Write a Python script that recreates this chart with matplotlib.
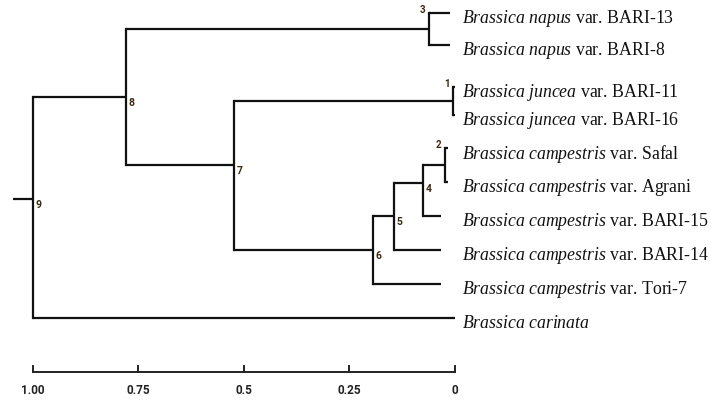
import matplotlib.pyplot as plt

plt.rcParams['mathtext.fontset'] = 'custom'
plt.rcParams['mathtext.it'] = 'Liberation Serif:italic'
plt.rcParams['mathtext.rm'] = 'Liberation Serif'

# leaf names (italic part, plain part), top to bottom
species = ["Brassica napus", "Brassica napus", "Brassica juncea", "Brassica juncea",
           "Brassica campestris", "Brassica campestris", "Brassica campestris",
           "Brassica campestris", "Brassica campestris", "Brassica carinata"]
varieties = ["var. BARI-13", "var. BARI-8", "var. BARI-11", "var. BARI-16",
             "var. Safal", "var. Agrani", "var. BARI-15", "var. BARI-14",
             "var. Tori-7", ""]
# row of each leaf
leaf_row = [0, 0.95, 2.18, 3.0, 3.98, 4.99, 5.99, 6.99, 7.99, 9.0]
# where each leaf branch stops (distance)
leaf_tip = [0.012, 0.012, 0.0, 0.0, 0.017, 0.017, 0.033, 0.033, 0.033, 0.0]

# merges: (node label, child a, child b, distance); children are leaf index or "n<label>"
merges = [
    ("1", 2, 3, 0.005),
    ("2", 4, 5, 0.024),
    ("3", 0, 1, 0.062),
    ("4", "n2", 6, 0.076),
    ("5", "n4", 7, 0.145),
    ("6", "n5", 8, 0.194),
    ("7", "n1", "n6", 0.524),
    ("8", "n3", "n7", 0.78),
    ("9", "n8", 9, 1.0),
]
# nodes whose joining point is not at the middle of the two children
node_row = {"4": 5.01, "7": 4.48, "9": 5.49}
root_stub = 1.047

scale_ticks = [1.0, 0.75, 0.5, 0.25, 0.0]
scale_labels = ["1.00", "0.75", "0.5", "0.25", "0"]

fig = plt.figure(figsize=(7.11, 4.04), dpi=100)
ax = fig.add_axes([0, 0, 1, 1])
ax.set_xlim(1.078, -0.607)
ax.set_ylim(11.53, -0.383)
ax.axis('off')

lw = 1.6
col = '#111111'
numfont = ['Liberation Sans Narrow', 'Roboto', 'DejaVu Sans']

# positions of every node: (x, y)
pos = {}
for i in range(len(species)):
    pos[i] = (leaf_tip[i], leaf_row[i])

top_labels = {"1", "2", "3"}
for label, a, b, h in merges:
    xa, ya = pos[a]
    xb, yb = pos[b]
    ax.plot([xa, h], [ya, ya], color=col, lw=lw, solid_capstyle='butt')
    ax.plot([xb, h], [yb, yb], color=col, lw=lw, solid_capstyle='butt')
    ax.plot([h, h], [ya, yb], color=col, lw=lw, solid_capstyle='projecting')
    ym = node_row.get(label, (ya + yb) / 2)
    pos["n" + label] = (h, ym)
    if label in top_labels:
        ax.text(h + 0.008, min(ya, yb) + 0.05, label, fontsize=7, fontweight='bold',
                color='#3a2a10', ha='right', va='bottom', family=numfont)
    else:
        ax.text(h - 0.006, ym + 0.17, label, fontsize=7.5, fontweight='bold',
                color='#3a2a10', ha='left', va='center', family=numfont)

# root stub
xr, yr = pos["n9"]
ax.plot([root_stub, xr], [yr, yr], color=col, lw=lw, solid_capstyle='butt')

# leaf labels
for i in range(len(species)):
    it = species[i].replace(" ", r"\ ")
    s = r"$\mathit{" + it + "}$"
    if varieties[i]:
        s += " " + varieties[i]
    ax.text(-0.017, leaf_row[i] + 0.17, s, fontsize=12.8, family='Liberation Serif',
            ha='left', va='center', color='#111111')

# scale bar
bar_y = 10.59
ax.plot([scale_ticks[0], scale_ticks[-1]], [bar_y, bar_y], color='#222222', lw=1.4)
for t, lab in zip(scale_ticks, scale_labels):
    ax.plot([t, t], [bar_y, bar_y - 0.17], color='#222222', lw=1.4)
    ax.text(t, bar_y + 0.53, lab, fontsize=8.5, fontweight='bold', ha='center',
            va='center', color='#222222', family=numfont)

fig.savefig('out.png', dpi=100)
